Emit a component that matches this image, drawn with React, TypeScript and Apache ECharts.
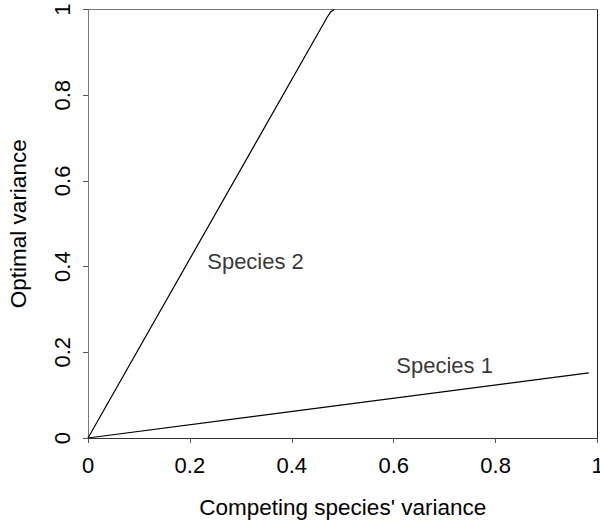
import React, { useEffect, useRef } from "react";
import * as echarts from "echarts";

const species1Points: [number, number][] = [[0, 0], [0.983, 0.152]];
const species2Points: [number, number][] = [[0, 0], [0.47, 0.983], [0.476, 0.994], [0.483, 1]];
const labelNames = ["Species 2", "Species 1"];
const labelPositions: [number, number][] = [[0.234, 0.412], [0.605, 0.17]];
const xTitle = "Competing species' variance";
const yTitle = "Optimal variance";

const FONT = "'Liberation Sans', Arial, sans-serif";

export default function App() {
  const ref = useRef<HTMLDivElement>(null);
  useEffect(() => {
    if (!ref.current) return;
    const chart = echarts.init(ref.current, undefined, { renderer: "svg" });
    const axisCommon = { min: 0, max: 1, interval: 0.2, splitLine: { show: false } };
    chart.setOption({
      animation: false,
      textStyle: { fontFamily: FONT },
      grid: { left: 88, top: 9.5, right: 2.5, bottom: 85, containLabel: false, outerBoundsMode: "none" },
      xAxis: [
        {
          ...axisCommon,
          type: "value",
          position: "bottom",
          name: xTitle,
          nameLocation: "middle",
          nameGap: 58,
          nameTextStyle: { fontSize: 22.5, color: "#000", fontFamily: FONT },
          axisLine: { show: true, onZero: false, lineStyle: { color: "#333", width: 1 } },
          axisTick: { show: true, length: 5, lineStyle: { color: "#555" } },
          axisLabel: { fontSize: 22, color: "#000", margin: 16, fontFamily: FONT },
        },
        {
          ...axisCommon,
          type: "value",
          position: "top",
          axisLine: { show: true, onZero: false, lineStyle: { color: "#777", width: 1 } },
          axisTick: { show: false },
          axisLabel: { show: false },
        },
      ],
      yAxis: [
        {
          ...axisCommon,
          type: "value",
          position: "left",
          name: yTitle,
          nameLocation: "middle",
          nameGap: 58,
          nameRotate: 90,
          nameTextStyle: { fontSize: 22.5, color: "#000", fontFamily: FONT },
          axisLine: { show: true, onZero: false, lineStyle: { color: "#777", width: 1 } },
          axisTick: { show: true, length: 5, lineStyle: { color: "#555" } },
          axisLabel: { fontSize: 22, color: "#000", margin: 15, rotate: 90, fontFamily: FONT },
        },
        {
          ...axisCommon,
          type: "value",
          position: "right",
          axisLine: { show: true, onZero: false, lineStyle: { color: "#222", width: 1 } },
          axisTick: { show: false },
          axisLabel: { show: false },
        },
      ],
      series: [
        {
          type: "line",
          data: species1Points,
          symbol: "none",
          lineStyle: { color: "#000", width: 1.2 },
          xAxisIndex: 0,
          yAxisIndex: 0,
        },
        {
          type: "line",
          data: species2Points,
          symbol: "none",
          lineStyle: { color: "#000", width: 1.2 },
          xAxisIndex: 0,
          yAxisIndex: 0,
        },
        {
          type: "scatter",
          symbolSize: 0,
          xAxisIndex: 0,
          yAxisIndex: 0,
          data: labelPositions.map((p, i) => ({ value: p, name: labelNames[i] })),
          label: {
            show: true,
            position: "right",
            distance: 0,
            formatter: (p: any) => p.name,
            fontSize: 22,
            color: "#000",
            fontFamily: FONT,
          },
        },
      ],
    });
    return () => chart.dispose();
  }, []);
  return <div ref={ref} style={{ width: 600, height: 523, position: "absolute", left: 0, top: 0, background: "#fff" }} />;
}
